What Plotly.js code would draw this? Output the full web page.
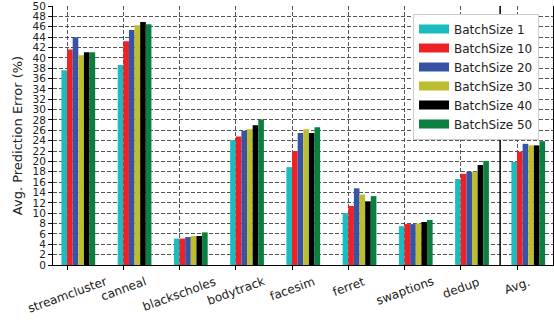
<!DOCTYPE html>
<html>
<head>
<meta charset="utf-8">
<script src="https://cdn.plot.ly/plotly-3.0.1.min.js"></script>
<style>html,body{margin:0;padding:0;background:#fff;}#chart{width:554px;height:322px;}</style>
</head>
<body>
<div id="chart"></div>
<script>
const categories = ['streamcluster','canneal','blackscholes','bodytrack','facesim','ferret','swaptions','dedup','Avg.'];
const seriesNames = ['BatchSize 1','BatchSize 10','BatchSize 20','BatchSize 30','BatchSize 40','BatchSize 50'];
const bs1  = [37.6, 38.6, 5.1, 24.1, 18.9, 10.0, 7.5, 16.6, 19.9];
const bs10 = [41.6, 43.2, 5.1, 24.8, 22.0, 11.4, 7.9, 17.6, 21.9];
const bs20 = [44.0, 45.4, 5.4, 25.9, 25.5, 14.8, 7.9, 18.0, 23.4];
const bs30 = [40.5, 46.3, 5.6, 26.2, 26.2, 13.6, 8.0, 18.0, 23.1];
const bs40 = [41.1, 46.9, 5.6, 27.0, 25.5, 12.3, 8.3, 19.3, 23.1];
const bs50 = [41.1, 46.5, 6.3, 28.1, 26.6, 13.3, 8.7, 20.1, 23.9];
const seriesValues = [bs1, bs10, bs20, bs30, bs40, bs50];
const colors = ['#1bbcbf','#ee2226','#3953a4','#bdbe2f','#000000','#0b7f3f'];

const font = 'DejaVu Sans, sans-serif';
const barW = 0.1;
const traces = [];
seriesValues.forEach((vals, i) => {
  traces.push({
    type: 'bar', x: categories, y: vals, name: seriesNames[i],
    width: barW, offset: -barW + i * barW,
    marker: {color: colors[i], line: {width: 0}},
    showlegend: false, hoverinfo: 'skip'
  });
});
// legend-only entries (wide patch look)
seriesValues.forEach((vals, i) => {
  traces.push({
    type: 'scatter', mode: 'lines', x: [null], y: [null], name: seriesNames[i],
    line: {color: colors[i], width: 9}, showlegend: true, hoverinfo: 'skip'
  });
});

const grid = {showgrid: true, gridcolor: '#444', gridwidth: 0.9, griddash: '4px,2px'};
const annotations = categories.map(c => ({
  x: c, xref: 'x', y: 0, yref: 'paper', yanchor: 'top', xanchor: 'center',
  yshift: -7, textangle: -20, showarrow: false, text: c,
  font: {family: font, size: 12, color: '#222'}
}));

const layout = {
  width: 554, height: 322,
  margin: {l: 53, r: 1, t: 6, b: 57},
  paper_bgcolor: '#fff', plot_bgcolor: '#fff',
  barmode: 'overlay',
  font: {family: font, color: '#222'},
  xaxis: Object.assign({
    type: 'category', range: [-0.25, 8.64], showline: true, linecolor: '#000', linewidth: 1,
    ticks: 'outside', ticklen: 4, tickcolor: '#000', showticklabels: false, zeroline: false
  }, grid),
  yaxis: Object.assign({
    range: [0, 50.01], tick0: 0, dtick: 2, showline: true, mirror: true, linecolor: '#000', linewidth: 1,
    ticks: 'outside', ticklen: 4, tickcolor: '#000', zeroline: false,
    ticklabeloverflow: 'allow',
    tickfont: {family: font, size: 10.5, color: '#222'},
    title: {text: 'Avg. Prediction Error (%)', font: {family: font, size: 13, color: '#222'}, standoff: 6}
  }, grid),
  legend: {
    x: 0.72, y: 0.971, xanchor: 'left', yanchor: 'top',
    bgcolor: '#fff', bordercolor: '#ccc', borderwidth: 1,
    font: {family: font, size: 12, color: '#222'}, tracegroupgap: 0
  },
  shapes: [{type: 'line', xref: 'x', yref: 'paper', x0: categories.length - 1.3, x1: categories.length - 1.3, y0: 0, y1: 1,
            line: {color: '#000', width: 1.5}}],
  annotations: annotations
};

Plotly.newPlot('chart', traces, layout, {displayModeBar: false, staticPlot: true});
</script>
</body>
</html>
